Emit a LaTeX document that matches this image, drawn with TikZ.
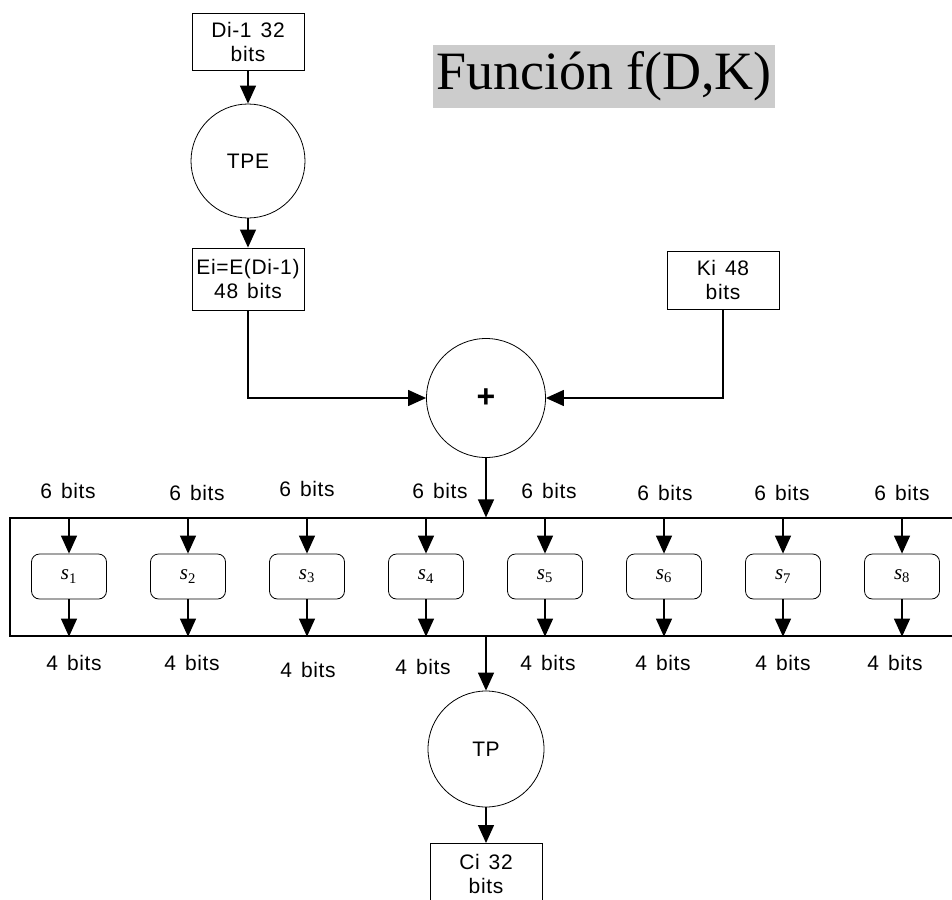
\documentclass[tikz,border=0pt]{standalone}
\usepackage{fontspec}
\setmainfont{Liberation Serif}
\setsansfont[LetterSpace=3, WordSpace=1.4]{Liberation Sans}
\usetikzlibrary{arrows.meta}

\begin{document}
\begin{tikzpicture}[
  x=1pt, y=-1pt,
  fdkbox/.style = {draw, line width=0.9pt, minimum width=112pt, minimum height=58pt,
    inner sep=1pt, align=center, font=\sffamily\fontsize{21}{24}\selectfont},
  fdkcirc/.style = {draw, circle, line width=0.8pt, minimum size=114pt, inner sep=0pt,
    font=\sffamily\fontsize{21}{24}\selectfont},
  fdksbox/.style = {draw, rounded corners=8pt, line width=0.8pt, minimum width=75pt,
    minimum height=45pt, font=\fontsize{21}{24}\selectfont},
  fdkarrow/.style = {line width=1.3pt, -{Triangle[width=16pt,length=18pt]}},
  fdklbl/.style = {font=\sffamily\fontsize{21}{24}\selectfont}
]
  \useasboundingbox (0,0) rectangle (952,899);
  \clip (0,0) rectangle (952,899);
  % titulo
  \node[fill=black!20, minimum width=342pt, minimum height=63pt, inner sep=0pt,
    font=\fontsize{54}{60}\selectfont] (title) at (604,76.5) {Función f(D,K)};
  % entrada y expansion
  \node[fdkbox, minimum height=57pt] (di) at (248,41.5) {Di-1 32\\bits};
  \node[fdkcirc] (tpe) at (248,161) {TPE};
  \node[fdkbox, minimum height=62pt] (ei) at (248,279) {Ei=E(Di-1)\\48 bits};
  \node[fdkbox] (ki) at (723,280) {Ki 48\\bits};
  \node[fdkcirc, minimum size=119pt, font=\sffamily\bfseries\fontsize{32}{32}\selectfont]
    (xor) at (486,398) {+};
  \draw[fdkarrow] (di) -- (tpe);
  \draw[fdkarrow] (tpe) -- (ei);
  \draw[fdkarrow] (ei.south) |- (xor.west);
  \draw[fdkarrow] (ki.south) |- (xor.east);
  % cajas S
  \node[draw, line width=1.2pt, minimum width=952pt, minimum height=118pt, inner sep=0pt]
    (sbank) at (486,577) {};
  \foreach \i in {1,...,8} {
    \node[fdksbox] (s\i) at ({69+119*(\i-1)},576.5) {\textit{s}\textsubscript{\i}};
    \draw[fdkarrow] (s\i |- sbank.north) -- (s\i.north);
    \draw[fdkarrow] (s\i.south) -- (s\i |- sbank.south);
  }
  \foreach \i/\ux/\uy/\dx/\dy in {1/68/491/74/663, 2/197/493/192/663, 3/307/489/308/670,
    4/440/491/423/667, 5/549/491/548/663, 6/665/493/663/663, 7/782/493/783/663,
    8/902/493/895/663} {
    \node[fdklbl] (in\i) at (\ux,\uy) {6 bits};
    \node[fdklbl] (out\i) at (\dx,\dy) {4 bits};
  }
  \draw[fdkarrow] (xor.south) -- (sbank.north);
  % permutacion y salida
  \node[fdkcirc, minimum size=116pt] (tp) at (486,749) {TP};
  \node[fdkbox, anchor=north, minimum height=62pt] (ci) at (486,843) {Ci 32\\bits};
  \draw[fdkarrow] (sbank.south) -- (tp.north);
  \draw[fdkarrow] (tp.south) -- (ci.north);
\end{tikzpicture}
\end{document}
